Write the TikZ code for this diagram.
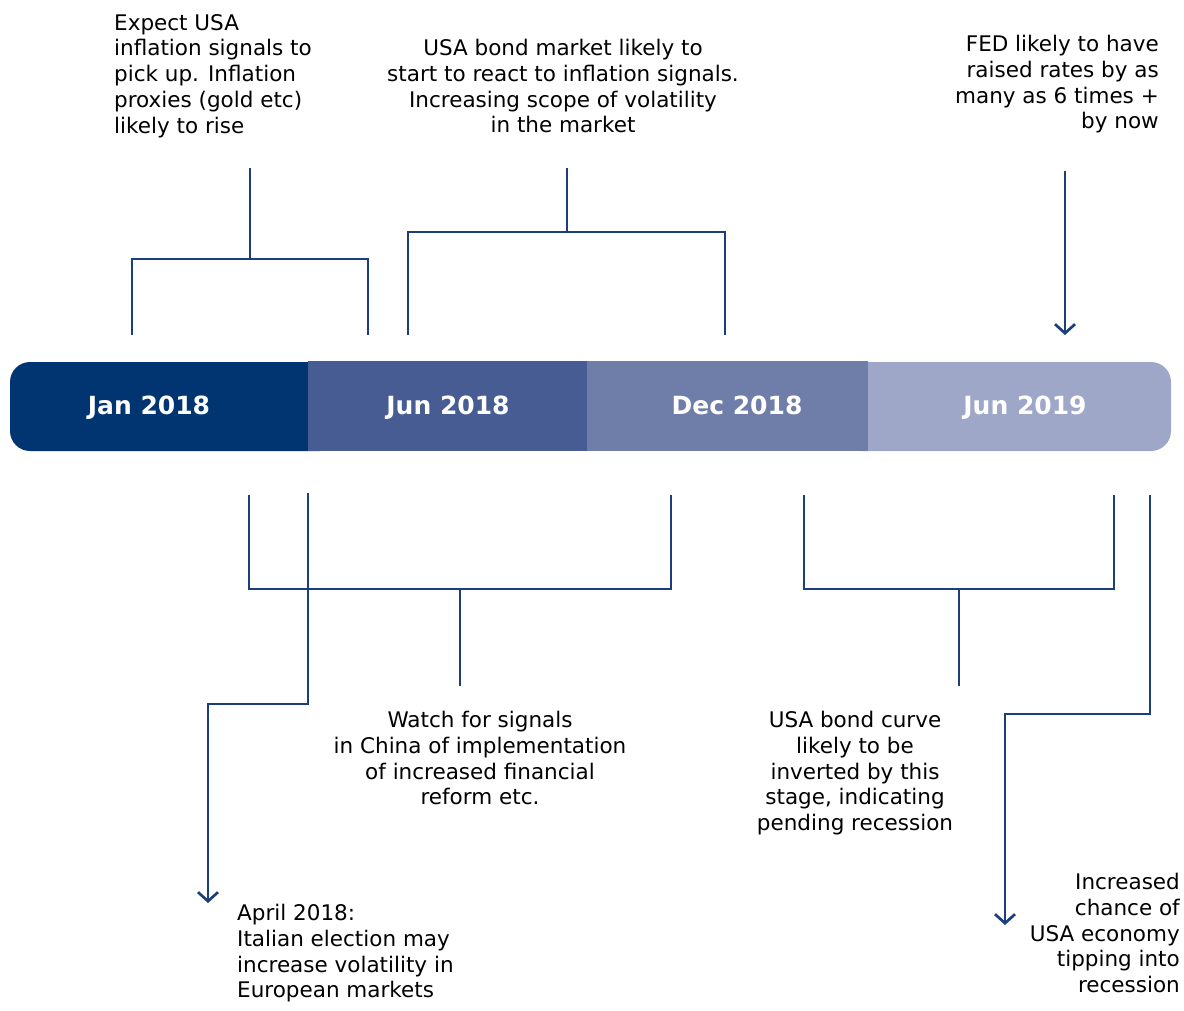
\documentclass[tikz,border=0pt]{standalone}
\usepackage{fontspec}
\setmainfont{DejaVu Sans}
\usetikzlibrary{arrows.meta}
\definecolor{c1}{HTML}{003572}
\definecolor{c2}{HTML}{475C93}
\definecolor{c3}{HTML}{6F7EA9}
\definecolor{c4}{HTML}{9EA7C7}
\definecolor{ln}{HTML}{1C3F7C}
\tikzset{
  lbl/.style={font=\fontsize{21.5}{25.8}\selectfont, text=black, inner sep=0pt},
  barlbl/.style={font=\fontsize{25}{28}\selectfont\bfseries, text=white, inner sep=0pt, anchor=base},
  conn/.style={draw=ln, line width=2.7pt},
  arr/.style={conn, -{Straight Barb[length=9pt,width=20pt,line width=2.7pt]}}
}
\begin{document}
\begin{tikzpicture}[x=1pt,y=-1pt]
\useasboundingbox (0,0) rectangle (1184,1011);
% timeline bar
\fill[c1, rounded corners=20pt] (10,362) rectangle (340,451);
\fill[c4, rounded corners=20pt] (840,362) rectangle (1171,451);
\fill[c2] (308,361) rectangle (587,451);
\fill[c3] (587,361) rectangle (868,451);
\node[barlbl] (jan18) at (149,414) {Jan 2018};
\node[barlbl] (jun18) at (448,414) {Jun 2018};
\node[barlbl] (dec18) at (737,414) {Dec 2018};
\node[barlbl] (jun19) at (1025,414) {Jun 2019};
% texts
\node[lbl, anchor=north west, align=left] (t1) at (114,14) {Expect USA\\inflation signals to\\pick up. Inflation\\proxies (gold etc)\\likely to rise};
\node[lbl, anchor=north, align=center] (t2) at (563,39) {USA bond market likely to\\start to react to inflation signals.\\Increasing scope of volatility\\in the market};
\node[lbl, anchor=north east, align=right] (t3) at (1159,35) {FED likely to have\\raised rates by as\\many as 6 times +\\by now};
\node[lbl, anchor=north, align=center] (b1) at (480,711) {Watch for signals\\in China of implementation\\of increased financial\\reform etc.};
\node[lbl, anchor=north, align=center] (b2) at (855,711) {USA bond curve\\likely to be\\inverted by this\\stage, indicating\\pending recession};
\node[lbl, anchor=north west, align=left] (b3) at (237,904) {April 2018:\\Italian election may\\increase volatility in\\European markets};
\node[lbl, anchor=north east, align=right] (b4) at (1180,873) {Increased\\chance of\\USA economy\\tipping into\\recession};
% top bracket 1
\coordinate (L1) at (132,335);
\coordinate (R1) at (368,335);
\coordinate (K1) at (250,259);
\coordinate (S1) at (250,168);
\draw[conn] (L1) |- (K1) -| (R1);
\draw[conn] (K1) -- (S1);
% top bracket 2
\coordinate (L2) at (408,335);
\coordinate (R2) at (725,335);
\coordinate (K2) at (567,232);
\coordinate (S2) at (567,168);
\draw[conn] (L2) |- (K2) -| (R2);
\draw[conn] (K2) -- (S2);
% top arrow
\coordinate (A1) at (1065,171);
\coordinate (A2) at (1065,335);
\draw[arr] (A1) -- (A2);
% bottom bracket 1
\coordinate (L3) at (249,495);
\coordinate (R3) at (671,495);
\coordinate (K3) at (460,589);
\coordinate (S3) at (460,686);
\draw[conn] (L3) |- (K3) -| (R3);
\draw[conn] (K3) -- (S3);
% bottom bracket 2
\coordinate (L4) at (804,495);
\coordinate (R4) at (1114,495);
\coordinate (K4) at (959,589);
\coordinate (S4) at (959,686);
\draw[conn] (L4) |- (K4) -| (R4);
\draw[conn] (K4) -- (S4);
% bottom-left arrow
\coordinate (P1) at (308,493);
\coordinate (P2) at (208,704);
\coordinate (P3) at (208,903);
\draw[arr] (P1) |- (P2) -- (P3);
% bottom-right arrow
\coordinate (Q1) at (1150,495);
\coordinate (Q2) at (1005,714);
\coordinate (Q3) at (1005,925);
\draw[arr] (Q1) |- (Q2) -- (Q3);
\end{tikzpicture}
\end{document}
